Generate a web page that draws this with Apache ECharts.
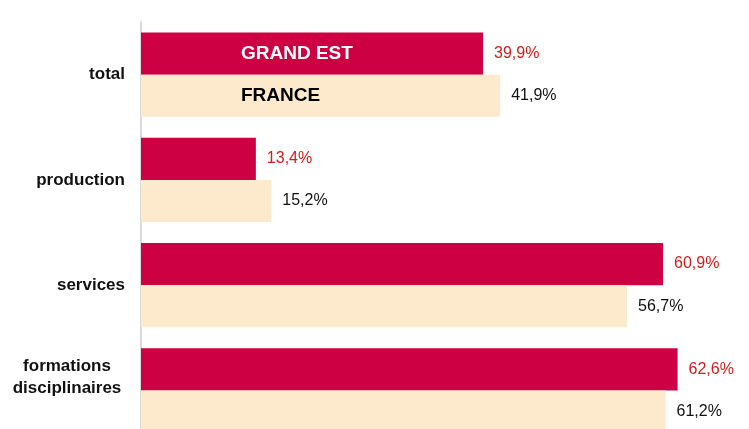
<!DOCTYPE html>
<html lang="fr">
<head>
    <meta charset="UTF-8">
    <title>Grand Est / France</title>
    <script src="https://cdn.jsdelivr.net/npm/echarts@6/dist/echarts.min.js"></script>
    <style>
        html, body { margin: 0; padding: 0; background: #fff; overflow: hidden; }
        #chart { width: 749px; height: 446px; }
    </style>
</head>
<body>
    <div id="chart"></div>
    <script>
        var categories = ['total', 'production', 'services', 'formations disciplinaires'];
        var grandEst = [39.9, 13.4, 60.9, 62.6];
        var france = [41.9, 15.2, 56.7, 61.2];

        var chart = echarts.init(document.getElementById('chart'));

        function pct(v) {
            return v.toFixed(1).replace('.', ',') + '%';
        }

        var labelFont = 'Liberation Sans, Arial, sans-serif';

        // series name written inside the first bar
        function nameMark(color) {
            return {
                symbol: 'rect',
                symbolSize: 0,
                data: [{ coord: [0, 0] }],
                label: {
                    show: true,
                    position: 'right',
                    distance: 100,
                    formatter: '{a}',
                    color: color,
                    fontSize: 19,
                    fontWeight: 'bold',
                    fontFamily: labelFont
                }
            };
        }

        chart.setOption({
            animation: false,
            grid: { left: 141, top: 22, width: 600, height: 421 },
            xAxis: {
                type: 'value',
                min: 0,
                max: 70,
                show: false
            },
            yAxis: {
                type: 'category',
                data: categories,
                inverse: true,
                axisLine: { show: true, lineStyle: { color: '#d9d9d9', width: 2 } },
                axisTick: { show: false },
                splitLine: { show: false },
                axisLabel: {
                    margin: 16,
                    color: '#111',
                    fontSize: 17,
                    fontWeight: 'bold',
                    fontFamily: labelFont,
                    formatter: function (v) {
                        if (v === 'formations disciplinaires') {
                            return '{c|formations}\n{c|disciplinaires}\n{e|}';
                        }
                        return v;
                    },
                    rich: {
                        c: {
                            width: 116,
                            align: 'center',
                            color: '#111',
                            fontSize: 17,
                            fontWeight: 'bold',
                            fontFamily: labelFont,
                            lineHeight: 22
                        },
                        e: { height: 26, lineHeight: 26 }
                    }
                }
            },
            series: [
                {
                    name: 'GRAND EST',
                    type: 'bar',
                    data: grandEst,
                    barGap: '0%',
                    barCategoryGap: '20%',
                    itemStyle: { color: '#CC0042' },
                    label: {
                        show: true,
                        position: 'right',
                        distance: 11,
                        color: '#D01C1C',
                        fontSize: 16,
                        fontFamily: labelFont,
                        formatter: function (p) { return pct(p.value); }
                    },
                    markPoint: nameMark('#ffffff')
                },
                {
                    name: 'FRANCE',
                    type: 'bar',
                    data: france,
                    itemStyle: { color: '#FDE9CB' },
                    label: {
                        show: true,
                        position: 'right',
                        distance: 11,
                        color: '#111',
                        fontSize: 16,
                        fontFamily: labelFont,
                        formatter: function (p) { return pct(p.value); }
                    },
                    markPoint: nameMark('#000000')
                }
            ]
        });
    </script>
</body>
</html>
